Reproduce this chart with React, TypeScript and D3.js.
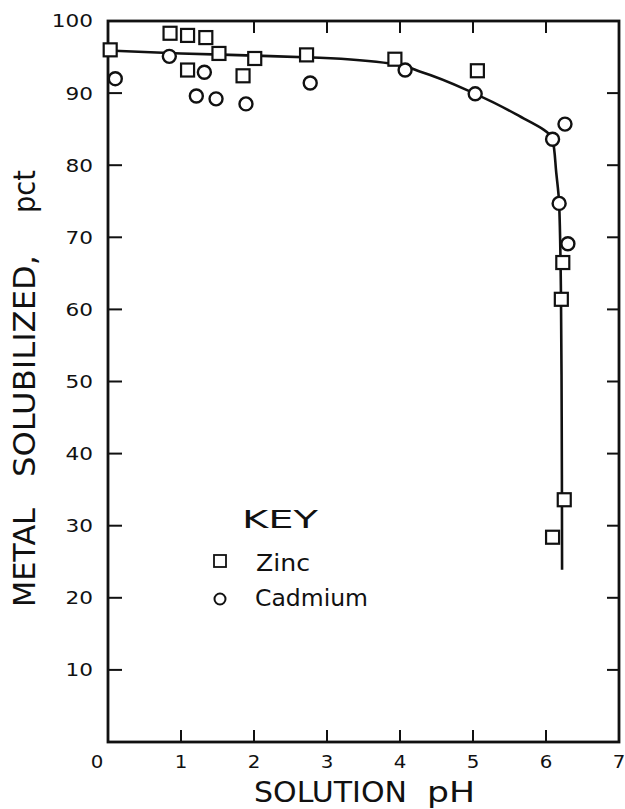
import React from "react";
import * as d3 from "d3";

const zincPH = [0.03, 0.85, 1.09, 1.34, 1.52, 2.01, 2.72, 1.09, 1.85, 3.93, 5.06, 6.23, 6.21, 6.25, 6.09];
const zincPct = [96.0, 98.3, 98.0, 97.7, 95.5, 94.8, 95.3, 93.2, 92.4, 94.7, 93.1, 66.5, 61.4, 33.6, 28.4];

const cadPH = [0.1, 0.84, 1.32, 1.21, 1.48, 1.89, 2.77, 4.07, 5.03, 6.26, 6.09, 6.18, 6.3];
const cadPct = [92.0, 95.1, 92.9, 89.6, 89.2, 88.5, 91.4, 93.2, 89.9, 85.7, 83.6, 74.7, 69.1];

const curvePH = [0, 1, 2, 2.9, 3.93, 4.27, 5.03, 5.6, 6.09, 6.14, 6.18, 6.205, 6.215, 6.22];
const curvePct = [95.9, 95.5, 95.2, 94.9, 94.0, 93.0, 89.9, 87.0, 83.6, 79.0, 74.7, 62.0, 45.0, 23.9];

const xTickValues = [0, 1, 2, 3, 4, 5, 6, 7];
const yTickValues = [0, 10, 20, 30, 40, 50, 60, 70, 80, 90, 100];
const topTickValues = [2, 3, 4, 5, 6];

const FONT = "'DejaVu Sans', sans-serif";

export default function App() {
  const x = d3.scaleLinear().domain([0, 7]).range([108, 619]);
  const y = d3.scaleLinear().domain([0, 100]).range([742, 21]);
  const [x0, x1] = x.range();
  const [y0, y1] = y.range();

  const curveData = curvePH.map((p, i) => [p, curvePct[i]] as [number, number]);
  const lineGen = d3
    .line<[number, number]>()
    .x((d) => x(d[0]))
    .y((d) => y(d[1]))
    .curve(d3.curveMonotoneY);

  const sq = 13;
  const r = 6.5;

  return (
    <svg
      width={625}
      height={809}
      style={{ position: "absolute", left: 0, top: 0, background: "#fff" }}
      fontFamily={FONT}
    >
      <rect x={0} y={0} width={625} height={809} fill="#fff" />
      {/* frame */}
      <rect x={x0} y={y1} width={x1 - x0} height={y0 - y1} fill="none" stroke="#111" strokeWidth={2.8} />
      {/* left/right ticks */}
      {yTickValues.filter((v) => v > 0 && v < 100).map((v) => (
        <g key={"yt" + v}>
          <line x1={x0} x2={x0 + 14} y1={y(v)} y2={y(v)} stroke="#111" strokeWidth={2} />
          <line x1={x1} x2={x1 - 12} y1={y(v)} y2={y(v)} stroke="#111" strokeWidth={2} />
        </g>
      ))}
      {/* bottom ticks */}
      {xTickValues.filter((v) => v > 0 && v < 7).map((v) => (
        <line key={"xb" + v} x1={x(v)} x2={x(v)} y1={y0} y2={y0 - 12} stroke="#111" strokeWidth={2} />
      ))}
      {topTickValues.map((v) => (
        <line key={"xt" + v} x1={x(v)} x2={x(v)} y1={y1} y2={y1 + 12} stroke="#111" strokeWidth={2} />
      ))}
      {/* y tick labels */}
      {yTickValues.filter((v) => v > 0).map((v) => (
        <g key={"yl" + v} transform={`translate(93,${y(v)}) scale(1.2,1)`}>
          <text x={0} y={0} dy="0.36em" textAnchor="end" fontSize={18} fill="#111">
            {v}
          </text>
        </g>
      ))}
      {/* x tick labels */}
      {xTickValues.map((v) => (
        <g key={"xl" + v} transform={`translate(${v === 0 ? x(v) - 11 : x(v)},768) scale(1.1,1)`}>
          <text x={0} y={0} textAnchor="middle" fontSize={18} fill="#111">
            {v}
          </text>
        </g>
      ))}
      {/* axis titles */}
      <text x={254} y={802} fontSize={28} fill="#111" textLength={153} lengthAdjust="spacingAndGlyphs">SOLUTION</text>
      <text x={427} y={802} fontSize={28} fill="#111" textLength={48} lengthAdjust="spacingAndGlyphs">pH</text>
      <g transform="translate(35,0) rotate(-90)">
        <text x={-607} y={0} fontSize={30} fill="#111" textLength={99} lengthAdjust="spacingAndGlyphs">METAL</text>
        <text x={-477} y={0} fontSize={30} fill="#111" textLength={222} lengthAdjust="spacingAndGlyphs">SOLUBILIZED,</text>
        <text x={-213} y={0} fontSize={30} fill="#111" textLength={43} lengthAdjust="spacingAndGlyphs">pct</text>
      </g>
      {/* fitted curve */}
      <path d={lineGen(curveData) || ""} fill="none" stroke="#111" strokeWidth={2.6} />
      {/* zinc */}
      {zincPH.map((p, i) => (
        <rect
          key={"z" + i}
          x={x(p) - sq / 2}
          y={y(zincPct[i]) - sq / 2}
          width={sq}
          height={sq}
          fill="#fff"
          stroke="#111"
          strokeWidth={2.2}
        />
      ))}
      {/* cadmium */}
      {cadPH.map((p, i) => (
        <circle key={"c" + i} cx={x(p)} cy={y(cadPct[i])} r={r} fill="#fff" stroke="#111" strokeWidth={2.4} />
      ))}
      {/* legend */}
      <text x={242} y={528} fontSize={25} fill="#111" textLength={76} lengthAdjust="spacingAndGlyphs">KEY</text>
      <rect x={214} y={555} width={12} height={12} fill="#fff" stroke="#111" strokeWidth={1.8} />
      <text x={256} y={571} fontSize={23} fill="#111" textLength={54} lengthAdjust="spacingAndGlyphs">Zinc</text>
      <circle cx={220} cy={599} r={5.5} fill="#fff" stroke="#111" strokeWidth={2} />
      <text x={255} y={606} fontSize={23} fill="#111" textLength={113} lengthAdjust="spacingAndGlyphs">Cadmium</text>
    </svg>
  );
}
